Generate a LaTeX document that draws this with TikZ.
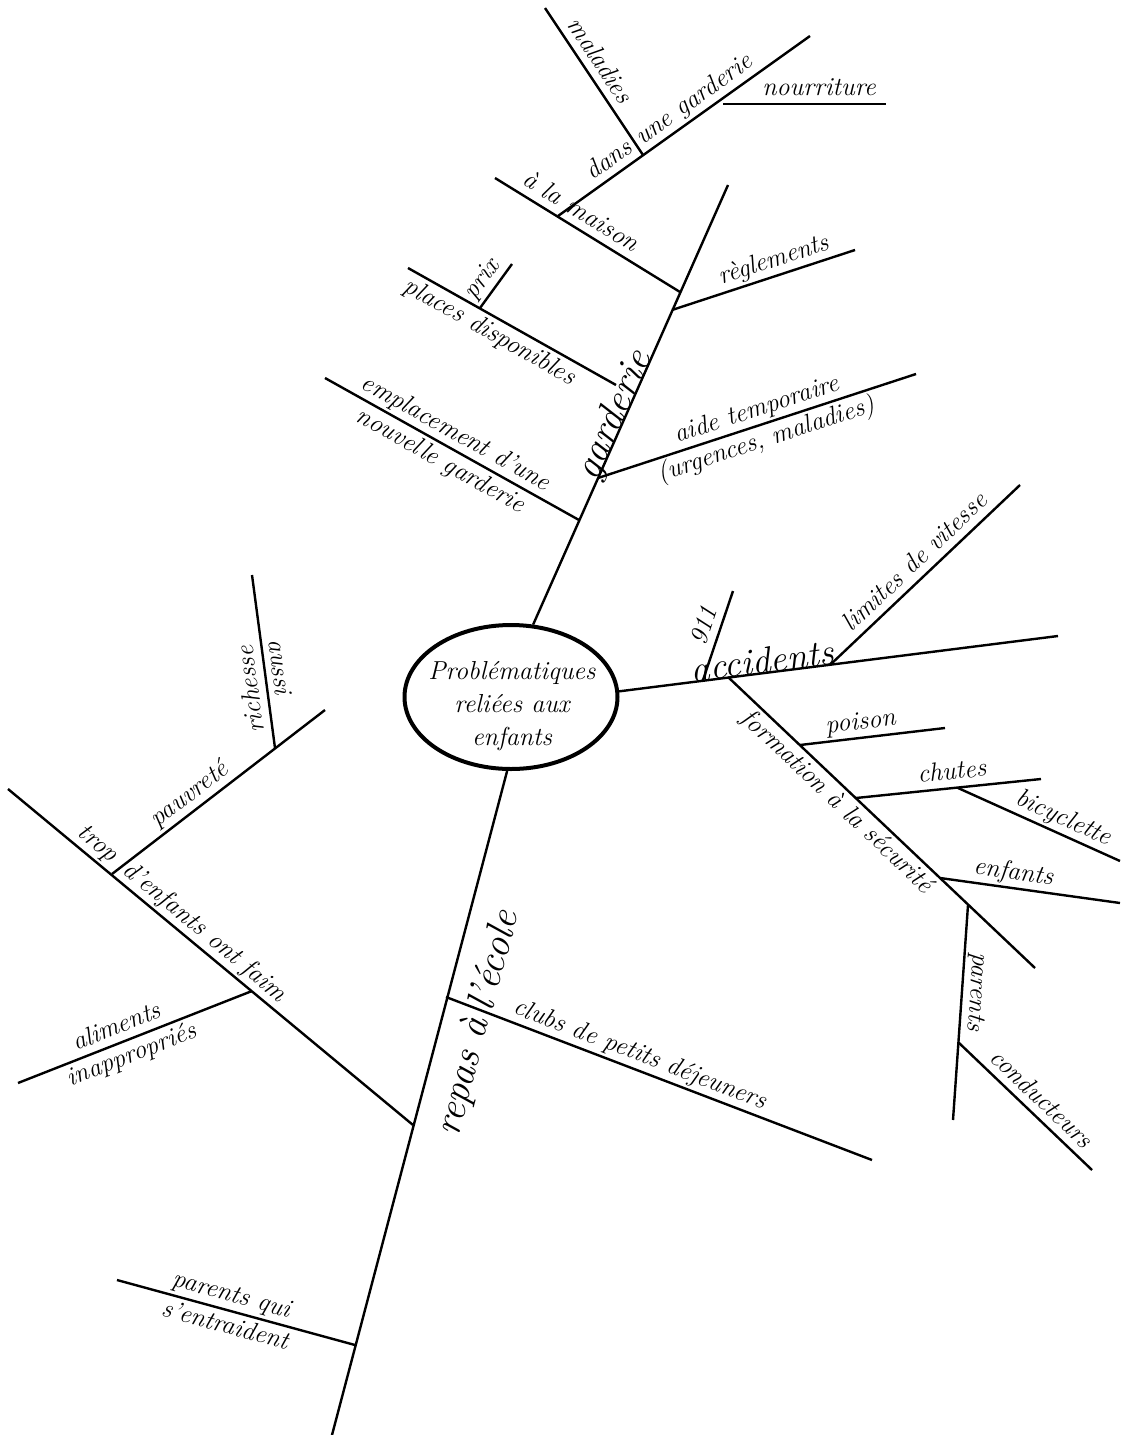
\documentclass[tikz,border=0pt]{standalone}
\usepackage{fontspec}
\usetikzlibrary{shapes.geometric}
\begin{document}
\begin{tikzpicture}[x=1pt,y=-1pt,
  ln/.style={line width=2.4pt},
  lbl/.style={font=\fontsize{26}{30}\selectfont\itshape, inner sep=1.5pt, text height=20pt, text depth=6pt},
  big/.style={font=\fontsize{40}{44}\selectfont\itshape, inner sep=0pt},
  bigacc/.style={font=\fontsize{37}{40}\selectfont\itshape, inner sep=0pt},
  ctr/.style={font=\fontsize{26}{33}\selectfont\itshape, align=center, inner sep=0pt},
  hub/.style={draw, ellipse, line width=4pt, minimum width=213pt, minimum height=144pt, inner sep=0pt}
]
\fill[white] (0,0) rectangle (1120,1435);
\useasboundingbox (0,0) rectangle (1120,1435);

% centre
\node[hub] (c) at (511,697) {};
\node[ctr] (ctext) at (512,706) {Problématiques\\reliées aux\\enfants};

% ---------- garderie ----------
\coordinate (gT) at (728,185);
\coordinate (eA) at (325,378);  \coordinate (eB) at (579,520);
\coordinate (pA) at (408,268);  \coordinate (pB) at (616,385);
\coordinate (xA) at (480,308);  \coordinate (xB) at (512,264);
\coordinate (mA) at (495,178);  \coordinate (mB) at (680,292);
\coordinate (dA) at (558,216);  \coordinate (dB) at (810,36);
\coordinate (lA) at (545,8);    \coordinate (lB) at (643,155);
\coordinate (nA) at (723,104);  \coordinate (nB) at (886,104);
\coordinate (rA) at (672,310);  \coordinate (rB) at (855,250);
\coordinate (aA) at (598,478);  \coordinate (aB) at (916,374);

\draw[ln] (c.73) -- (gT)
  node[big, sloped, pos=0.466, anchor=base] (tgard) {garderie};
\draw[ln] (eA) -- (eB)
  node[lbl, sloped, pos=0.485, above] (templ) {emplacement d'une}
  node[lbl, sloped, pos=0.485, below] (tnouv) {nouvelle garderie};
\draw[ln] (pA) -- (pB)
  node[lbl, sloped, pos=0.43, below] (tplaces) {places disponibles};
\draw[ln] (xA) -- (xB)
  node[lbl, sloped, pos=0.45, above] (tprix) {prix};
\draw[ln] (mA) -- (mB)
  node[lbl, sloped, pos=0.32, anchor=south east] (tala) {à la}
  node[lbl, sloped, pos=0.34, anchor=south west] (tmaison) {maison};
\draw[ln] (dA) -- (dB)
  node[lbl, sloped, pos=0.33, anchor=south east] (tdans) {dans}
  node[lbl, sloped, pos=0.345, anchor=south west] (tune) {une garderie};
\draw[ln] (lA) -- (lB)
  node[lbl, sloped, pos=0.42, above] (tmal) {maladies};
\draw[ln] (nA) -- (nB)
  node[lbl, pos=0.59, above] (tnour) {nourriture};
\draw[ln] (rA) -- (rB)
  node[lbl, sloped, pos=0.583, above] (tregl) {règlements};
\draw[ln] (aA) -- (aB)
  node[lbl, sloped, pos=0.515, above] (taide) {aide temporaire}
  node[lbl, sloped, pos=0.513, below] (turg) {(urgences, maladies)};

% ---------- accidents ----------
\coordinate (accE) at (1058,636);
\coordinate (kA) at (703,680);  \coordinate (kB) at (733,591);
\coordinate (vA) at (830,665);  \coordinate (vB) at (1020,485);
\coordinate (fA) at (728,677);  \coordinate (fB) at (1035,968);
\coordinate (poA) at (800,745); \coordinate (poB) at (945,728);
\coordinate (chA) at (856,798); \coordinate (chB) at (1041,779);
\coordinate (biA) at (958,788); \coordinate (biB) at (1120,861);
\coordinate (enA) at (940,878); \coordinate (enB) at (1120,903);
\coordinate (paA) at (968,905); \coordinate (paB) at (953,1120);
\coordinate (coA) at (958,1042); \coordinate (coB) at (1092,1170);

\draw[ln] (c.3) -- (accE)
  node[bigacc, sloped, pos=0.33, anchor=base] (tacc) {accidents};
\draw[ln] (kA) -- (kB)
  node[lbl, sloped, pos=0.55, above] (t911) {911};
\draw[ln] (vA) -- (vB)
  node[lbl, sloped, pos=0.506, above] (tlim) {limites de vitesse};
\draw[ln] (fA) -- (fB)
  node[lbl, sloped, pos=0.39, below] (tform) {formation à la sécurité};
\draw[ln] (poA) -- (poB)
  node[lbl, sloped, pos=0.43, above] (tpois) {poison};
\draw[ln] (chA) -- (chB)
  node[lbl, sloped, pos=0.527, above] (tchut) {chutes};
\draw[ln] (biA) -- (biB)
  node[lbl, sloped, pos=0.612, above] (tbic) {bicyclette};
\draw[ln] (enA) -- (enB)
  node[lbl, sloped, pos=0.396, above] (tenf) {enfants};
\draw[ln] (paA) -- (paB)
  node[lbl, sloped, allow upside down, pos=0.4, above] (tpar) {parents};
\draw[ln] (coA) -- (coB)
  node[lbl, sloped, pos=0.537, above] (tcond) {conducteurs};

% ---------- repas ----------
\coordinate (rpE) at (332,1435);
\coordinate (clA) at (446,997); \coordinate (clB) at (872,1160);
\coordinate (tA) at (8,789);    \coordinate (tB) at (413,1125);
\coordinate (pvA) at (112,874); \coordinate (pvB) at (325,710);
\coordinate (rsA) at (275,748); \coordinate (rsB) at (252,575);
\coordinate (alA) at (18,1083); \coordinate (alB) at (252,991);
\coordinate (pqA) at (117,1280); \coordinate (pqB) at (355,1345);

\draw[ln] (c.-93) -- (rpE);
\node[big, rotate=75.3] (trepas) at (464,1077) {repas à};
\node[big, rotate=75.3] (tecole) at (492,960) {l'école};
\draw[ln] (clA) -- (clB)
  node[lbl, sloped, pos=0.443, above] (tclub) {clubs de petits déjeuners};
\draw[ln] (tA) -- (tB)
  node[lbl, sloped, pos=0.245, anchor=south east] (ttrop) {trop}
  node[lbl, sloped, pos=0.262, anchor=south west] (tfaim) {d'enfants ont faim};
\draw[ln] (pvA) -- (pvB)
  node[lbl, sloped, pos=0.409, above] (tpauv) {pauvreté};
\draw[ln] (rsA) -- (rsB)
  node[lbl, sloped, allow upside down, pos=0.35, above] (trich) {richesse};
\path (rsB) -- (rsA)
  node[lbl, sloped, pos=0.542, above] (taussi) {aussi};
\draw[ln] (alA) -- (alB)
  node[lbl, sloped, pos=0.447, above] (talim) {aliments}
  node[lbl, sloped, pos=0.462, below] (tinap) {inappropriés};
\draw[ln] (pqA) -- (pqB)
  node[lbl, sloped, pos=0.4635, above] (tpq) {parents qui}
  node[lbl, sloped, pos=0.471, below] (tsen) {s'entraident};
\end{tikzpicture}
\end{document}
